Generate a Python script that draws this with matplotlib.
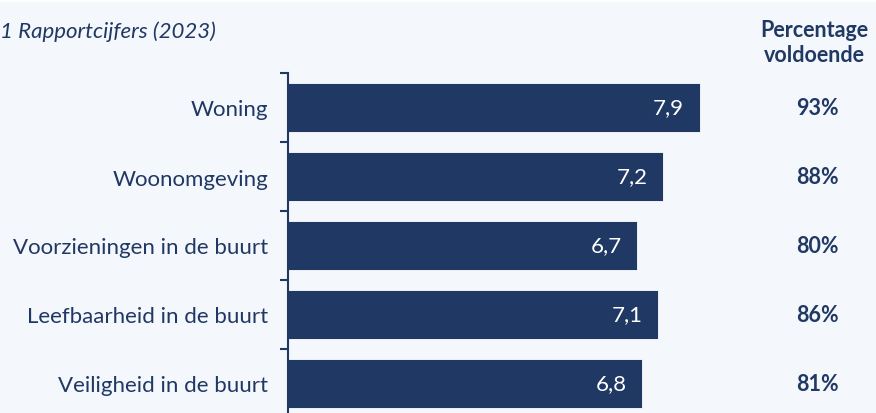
import numpy as np
import matplotlib.pyplot as plt
from matplotlib.patches import Rectangle

categories = ['Woning', 'Woonomgeving', 'Voorzieningen in de buurt',
              'Leefbaarheid in de buurt', 'Veiligheid in de buurt']
scores = [7.9, 7.2, 6.7, 7.1, 6.8]
pct_voldoende = [93, 88, 80, 86, 81]

navy = '#203864'
bg = '#f4f7fb'
plt.rcParams['font.family'] = ['Lato', 'DejaVu Sans']

fig = plt.figure(figsize=(8.76, 4.14), dpi=100, facecolor=bg)
fig.patches.append(Rectangle((0, 0.992), 1, 0.008, transform=fig.transFigure,
                             facecolor='white', edgecolor='none', zorder=0))

# axes top at y=74px, bottom just below the picture edge
ax = fig.add_axes([287.5 / 876, -5 / 414, 588.5 / 876, 345 / 414])
ax.set_facecolor('none')

y = np.arange(len(categories))
ax.barh(y, scores, height=0.71, color=navy, edgecolor='white', linewidth=0.6)
ax.set_xlim(0, 588.5 / 52.2)
ax.set_ylim(len(categories) - 0.5, -0.5)

for yi, s, p in zip(y, scores, pct_voldoende):
    ax.text(s - 0.3, yi, f'{s:.1f}'.replace('.', ','), ha='right', va='center',
            color='white', fontsize=16)
    ax.text((817 - 287.5) / 588.5, yi, f'{p}%', ha='center', va='center', color=navy,
            fontsize=15.5, fontweight='bold',
            transform=ax.get_yaxis_transform())

ax.set_yticks(y)
ax.set_yticklabels(categories, fontsize=16, color=navy)
ax.set_yticks(np.arange(-0.5, len(categories)), minor=True)
ax.tick_params(axis='y', which='major', length=0, pad=14)
ax.tick_params(axis='y', which='minor', length=6, width=1.5, color=navy)
ax.set_xticks([])
for side in ['top', 'right', 'bottom']:
    ax.spines[side].set_visible(False)
ax.spines['left'].set_color(navy)
ax.spines['left'].set_linewidth(1.5)

fig.text(0, 1 - 32 / 414, '1 Rapportcijfers (2023)', ha='left', va='center',
         fontsize=16, style='italic', color=navy)
fig.text(814 / 876, 1 - 43 / 414, 'Percentage\nvoldoende', ha='center', va='center',
         fontsize=15.5, fontweight='bold', color=navy, linespacing=1.25)

fig.savefig('out.png', dpi=100, facecolor=bg)
